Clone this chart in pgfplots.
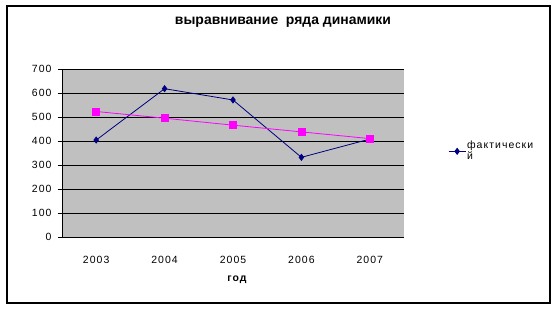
\documentclass[border=0pt]{standalone}
\usepackage{fontspec}
\setmainfont{Liberation Sans}
\newfontfamily\spfont[LetterSpace=10]{Liberation Sans}
\usepackage{pgfplots}
\pgfplotsset{compat=1.18}
\definecolor{navyb}{RGB}{0,0,128}
\definecolor{mag}{RGB}{255,0,255}
\definecolor{plotgray}{RGB}{192,192,192}
\begin{document}
\begin{tikzpicture}[x=1bp,y=1bp]
\path[use as bounding box] (0,0) rectangle (554,309);
\fill[white] (0,0) rectangle (554,309);
\draw[line width=2bp] (7,6) rectangle (550,303);
\node[font=\bfseries\fontsize{14}{16}\selectfont] at (283,287) {выравнивание\ \ ряда динамики};
\node[font=\spfont\bfseries\fontsize{10.5}{12}\selectfont] at (237,29) {год};
\begin{axis}[
  at={(62bp,72bp)}, anchor=south west,
  scale only axis, width=342bp, height=168bp,
  xmin=-0.5, xmax=4.5, ymin=0, ymax=700,
  axis x line=bottom, axis y line=left,
  axis line style={-, black, line width=0.8bp},
  axis background/.style={fill=plotgray},
  xtick={0,...,4}, xticklabels={2003,2004,2005,2006,2007},
  x tick style={draw=none},
  extra x ticks={-0.5,0.5,1.5,2.5,3.5,4.5},
  extra x tick labels={},
  extra x tick style={tick style={draw=black, line width=0.6bp}, major tick length=4bp, grid=none},
  ytick={0,100,...,700},
  y tick style={draw=black, line width=0.6bp},
  major tick length=4bp,
  tick align=outside,
  ymajorgrids, grid style={black, line width=0.7bp},
  /pgf/number format/assume math mode=true,
  ticklabel style={font=\spfont\fontsize{10.5}{12}\selectfont},
  xticklabel style={yshift=-12bp},
  yticklabel style={xshift=-3bp},
  legend style={draw=none, fill=none, at={(1.12,0.51)}, anchor=west,
    nodes={align=left, font=\spfont\fontsize{10.5}{11}\selectfont, inner sep=1bp}},
  legend cell align=left,
]
\addplot[navyb, line width=0.8bp, mark=diamond*, mark size=3bp, mark options={fill=navyb, draw=navyb}]
  coordinates {(0,404) (1,618) (2,571) (3,332) (4,408)};
\addlegendentry{фактически\\й}
\addplot[mag, line width=0.8bp, mark=square*, mark size=3.5bp, mark options={fill=mag, draw=mag}, forget plot]
  coordinates {(0,523) (1,495) (2,466) (3,438) (4,410)};
\end{axis}
\end{tikzpicture}
\end{document}
